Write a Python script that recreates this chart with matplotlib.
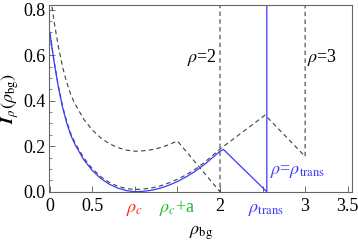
import matplotlib
matplotlib.use("Agg")
import matplotlib.pyplot as plt
import matplotlib.transforms as mtransforms

plt.rcParams['font.family'] = ['Liberation Serif', 'DejaVu Serif']
plt.rcParams['mathtext.fontset'] = 'stix'

# curve for rho = rho_trans (blue)
x_trans = [0, 0.05, 0.1, 0.15, 0.2, 0.25, 0.3, 0.4, 0.5, 0.6, 0.7, 0.8, 0.9, 1.0,
           1.1, 1.2, 1.3, 1.4, 1.5, 1.6, 1.7, 1.8, 1.9, 2.0, 2.04, 2.55, 2.55]
y_trans = [0.70, 0.57, 0.46, 0.37, 0.30, 0.245, 0.205, 0.14, 0.093, 0.058, 0.033, 0.016, 0.005, 0.0,
           0.002, 0.007, 0.016, 0.029, 0.045, 0.065, 0.088, 0.115, 0.146, 0.178, 0.186, 0.0, 0.9]

# curve for rho = 2 (upper dashed)
x_rho2 = [0, 0.05, 0.1, 0.15, 0.2, 0.25, 0.3, 0.4, 0.5, 0.6, 0.7, 0.8, 0.9, 1.0,
          1.1, 1.2, 1.3, 1.4, 1.5, 2.0, 2.0]
y_rho2 = [0.878, 0.748, 0.638, 0.548, 0.478, 0.423, 0.383, 0.318, 0.271, 0.236, 0.211, 0.194, 0.183, 0.178,
          0.180, 0.185, 0.194, 0.207, 0.223, 0.0, 0.9]

# curve for rho = 3 (lower dashed)
x_rho3 = [0, 0.05, 0.1, 0.15, 0.2, 0.25, 0.3, 0.4, 0.5, 0.6, 0.7, 0.8, 0.9, 1.0,
          1.1, 1.2, 1.3, 1.4, 1.5, 1.6, 1.7, 1.8, 1.9, 2.0, 2.25, 2.53, 3.0, 3.0]
y_rho3 = [0.70, 0.575, 0.465, 0.376, 0.306, 0.252, 0.212, 0.148, 0.101, 0.066, 0.041, 0.024, 0.014, 0.010,
          0.012, 0.017, 0.026, 0.039, 0.055, 0.074, 0.097, 0.124, 0.155, 0.188, 0.258, 0.337, 0.155, 0.9]

xticks = [0, 0.5, 1, 1.5, 2, 2.5, 3, 3.5]
xtick_labels = ['0', '0.5', '', '', '2', '', '3', '3.5']
yticks = [0.0, 0.2, 0.4, 0.6, 0.8]
ytick_labels = ['0.0', '0.2', '0.4', '0.6', '0.8']

fs = 13

fig = plt.figure(figsize=(3.58, 2.43), dpi=100)
ax = fig.add_axes([0.138, 0.208, 0.845, 0.771])

ax.plot(x_rho2, y_rho2, color='#404040', lw=0.8, dashes=(4, 3))
ax.plot(x_rho3, y_rho3, color='#404040', lw=0.8, dashes=(4, 3))
ax.plot(x_trans, y_trans, color='#3a3aff', lw=0.9)

ax.set_xlim(-0.005, 3.55)
ax.set_ylim(-0.003, 0.82)

ax.set_xticks(xticks)
ax.set_xticklabels(xtick_labels)
ax.set_yticks(yticks)
ax.set_yticklabels(ytick_labels)
ax.set_yticks([i * 0.05 for i in range(17) if i % 4 != 0], minor=True)
ax.tick_params(direction='in', length=4, width=0.6, color='#555555', labelsize=fs)
ax.tick_params(axis='x', pad=4)
ax.tick_params(axis='y', pad=3)
ax.tick_params(which='minor', direction='in', length=2, width=0.5, color='#555555')
for s in ax.spines.values():
    s.set_color('#666666')
    s.set_linewidth(0.8)

# coloured labels under the x axis
trans = mtransforms.blended_transform_factory(ax.transData, ax.transAxes)
ax.text(1.0, -0.104, r'$\rho_c$', color='#ff2020', fontsize=fs, ha='center', va='baseline', transform=trans)
ax.text(1.5, -0.104, r'$\rho_c$+a', color='#22bb22', fontsize=fs, ha='center', va='baseline', transform=trans)
ax.text(2.54, -0.104, r'$\rho_{\rm trans}$', color='#3a3aff', fontsize=fs, ha='center', va='baseline', transform=trans)

# line labels
ax.text(1.965, 0.59, r'$\rho$=2', fontsize=fs, ha='right', va='center')
ax.text(3.02, 0.59, r'$\rho$=3', fontsize=fs, ha='left', va='center')
ax.text(2.59, 0.088, r'$\rho$=$\rho_{\rm trans}$', color='#3a3aff', fontsize=fs, ha='left', va='center')

ax.text(0.5, -0.216, r'$\rho_{\rm bg}$', fontsize=fs, ha='center', va='center', transform=ax.transAxes)
ax.text(-0.128, 0.5, r'$\boldsymbol{I}_\rho(\rho_{\rm bg})$', fontsize=fs, ha='center', va='center',
        rotation=90, transform=ax.transAxes)

fig.savefig('out.png', dpi=100)
